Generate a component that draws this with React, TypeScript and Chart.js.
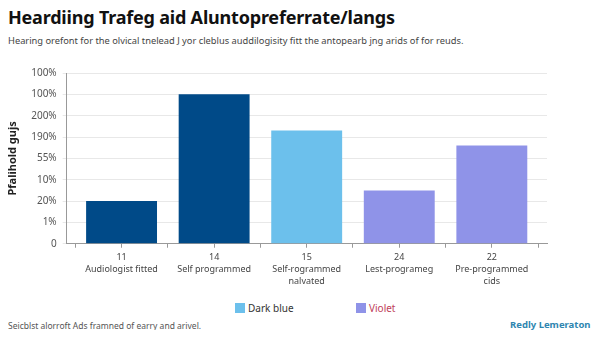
import React, { useEffect, useRef } from "react";
import { Chart, registerables } from "chart.js";

Chart.register(...registerables);

const categories: string[][] = [
  ["11", "Audiologist fitted"],
  ["14", "Self programmed"],
  ["15", "Self-rogrammed", "nalvated"],
  ["24", "Lest-programeg"],
  ["22", "Pre-programmed", "cids"],
];
const values: number[] = [2.0, 7.0, 5.3, 2.5, 4.6];
const barColors: string[] = ["#004a88", "#004a88", "#6cc0ec", "#8f93e8", "#8f93e8"];
const yTickLabels: string[] = ["0", "1%", "20%", "10%", "55%", "190%", "200%", "100%", "100%"];
const legendItems: string[] = ["Dark blue", "Violet"];
const legendColors: string[] = ["#6cc0ec", "#8f93e8"];
const legendTextColors: string[] = ["#333333", "#c0405a"];

const FONT = "'Noto Sans', 'Open Sans', sans-serif";

export default function App() {
  const ref = useRef<HTMLCanvasElement | null>(null);

  useEffect(() => {
    if (!ref.current) return;
    const n = categories.length;
    const chart = new Chart(ref.current, {
      type: "bar",
      data: {
        datasets: [
          {
            data: values.map((v, i) => ({ x: i, y: v })),
            backgroundColor: barColors,
            borderWidth: 0,
            categoryPercentage: 1.532,
            barPercentage: 1,
          },
        ],
      },
      options: {
        animation: false,
        responsive: false,
        maintainAspectRatio: false,
        layout: { padding: { left: 6, right: 53, top: 16, bottom: 0 } },
        plugins: { legend: { display: false }, tooltip: { enabled: false } },
        scales: {
          x: {
            type: "linear",
            offset: false,
            min: -0.593,
            max: n - 0.404,
            afterBuildTicks: (scale: any) => {
              const t: any[] = [];
              for (let k = -0.5; k <= n - 0.5 + 1e-9; k += 0.5) t.push({ value: k });
              scale.ticks = t;
            },
            grid: { offset: false, drawOnChartArea: false, drawTicks: true, tickLength: 4, color: "#999" },
            border: { color: "#999" },
            ticks: {
              color: "#444",
              font: { family: FONT, size: 9, lineHeight: 1.38 },
              padding: 3,
              maxRotation: 0,
              autoSkip: false,
              callback: (v: any) => {
                const x = Number(v);
                return Number.isInteger(x) && categories[x] ? categories[x] : "";
              },
            },
          },
          y: {
            min: 0,
            max: 8,
            grid: { color: "#e8e8e8", drawTicks: true, tickLength: 4 },
            border: { color: "#999" },
            ticks: {
              stepSize: 1,
              color: "#555",
              padding: 6,
              font: { family: FONT, size: 10 },
              callback: (v: any) => yTickLabels[Math.round(Number(v))] ?? "",
            },
            title: {
              display: true,
              text: "Pfalihold gujs",
              color: "#222",
              font: { family: FONT, size: 11, weight: "bold" },
              padding: { top: 0, bottom: 6 },
            },
          },
        },
      },
    });
    return () => chart.destroy();
  }, []);

  return (
    <div style={{ position: "relative", width: 600, height: 338, margin: -8, background: "#fff", fontFamily: FONT, overflow: "hidden" }}>
      <div style={{ position: "absolute", left: 8, top: 5, fontSize: 18, fontWeight: 700, color: "#111", whiteSpace: "nowrap", letterSpacing: -0.2 }}>
        Heardiing Trafeg aid Aluntopreferrate/langs
      </div>
      <div style={{ position: "absolute", left: 8, top: 34, fontSize: 9.3, color: "#444", whiteSpace: "nowrap" }}>
        Hearing orefont for the olvical tnelead J yor cleblus auddilogisity fitt the antopearb jng arids of for reuds.
      </div>
      <canvas ref={ref} width={600} height={234} style={{ position: "absolute", left: 0, top: 57, width: 600, height: 234 }} />
      {legendItems.map((t, i) => (
        <div key={t} style={{ position: "absolute", left: i === 0 ? 235 : 356, top: 301, display: "flex", alignItems: "center", fontSize: 10, color: legendTextColors[i], whiteSpace: "nowrap" }}>
          <span style={{ display: "inline-block", width: 10, height: 10, background: legendColors[i], marginRight: 3 }} />
          {t}
        </div>
      ))}
      <div style={{ position: "absolute", left: 8, top: 320, fontSize: 8.5, color: "#555", whiteSpace: "nowrap" }}>
        Seicblst alorroft Ads framned of earry and arivel.
      </div>
      <div style={{ position: "absolute", left: 510, top: 318, fontSize: 9.5, fontWeight: 700, color: "#2f86b0", whiteSpace: "nowrap" }}>
        Redly Lemeraton
      </div>
    </div>
  );
}
